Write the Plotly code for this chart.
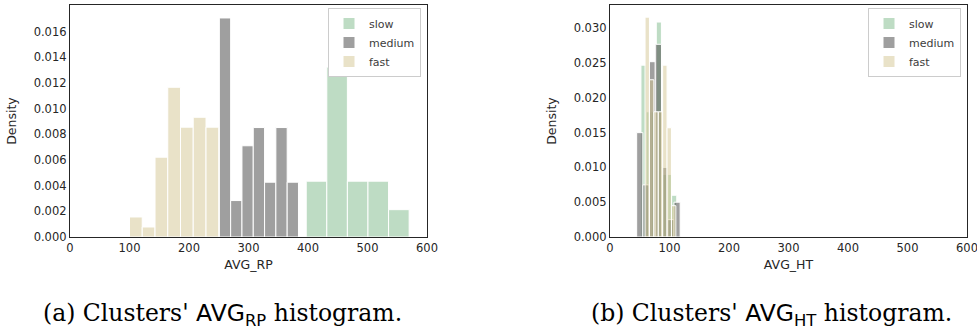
import numpy as np
import plotly.graph_objects as go

# ---- data ----
series_names = ["slow", "medium", "fast"]

# AVG_RP histogram (bin edges, densities)
slow_rp_edges = [397, 431.6, 466.2, 500.8, 535.4, 570]
slow_rp_density = [0.00435, 0.01324, 0.00435, 0.00435, 0.00213]
medium_rp_edges = [251, 270, 289, 308, 327, 346, 365, 384]
medium_rp_density = [0.01707, 0.00284, 0.00711, 0.00853, 0.00427, 0.00853, 0.00427]
fast_rp_edges = [100, 121.4, 142.9, 164.3, 185.7, 207.1, 228.6, 250]
fast_rp_density = [0.00156, 0.00078, 0.00622, 0.01167, 0.00856, 0.00933, 0.00856]

# AVG_HT histogram (bin edges, densities)
slow_ht_edges = [52, 60.6, 69.2, 77.8, 86.4, 95, 103.6, 112.2]
slow_ht_density = [0.0247, 0.018, 0.018, 0.0309, 0.009, 0.009, 0.006]
medium_ht_edges = [44.8, 55.2, 65.7, 76.1, 86.6, 97, 107.5, 117.9]
medium_ht_density = [0.0150, 0.0075, 0.0252, 0.0277, 0.0100, 0.0025, 0.0050]
fast_ht_edges = [58.9, 66.3, 73.7, 81.1, 88.5, 95.9, 103.3, 110.7]
fast_ht_density = [0.0316, 0.0226, 0.018, 0.018, 0.0247, 0.0157, 0.0045]

x_ticks = [0, 100, 200, 300, 400, 500, 600]
rp_y_ticks = [0.000, 0.002, 0.004, 0.006, 0.008, 0.010, 0.012, 0.014, 0.016]
ht_y_ticks = [0.000, 0.005, 0.010, 0.015, 0.020, 0.025, 0.030]

sans_span = "<span style='font-family:DejaVu Sans'>AVG<sub>{}</sub></span>"
captions = ["(a) Clusters' " + sans_span.format("RP") + " histogram.",
            "(b) Clusters' " + sans_span.format("HT") + " histogram."]

# ---- styling ----
colors = {"slow": "rgba(125,185,137,0.5)", "medium": "rgba(64,64,64,0.5)",
          "fast": "rgba(211,197,145,0.5)"}
text_color = "rgb(38,38,38)"
font_family = "DejaVu Sans"

fig = go.Figure()


def add_hist(edges, dens, name, xaxis, yaxis, legend):
    e = np.asarray(edges, dtype=float)
    centers = (e[:-1] + e[1:]) / 2
    widths = np.diff(e)
    fig.add_trace(go.Bar(
        x=centers, y=dens, width=widths, name=name,
        xaxis=xaxis, yaxis=yaxis, legend=legend,
        marker=dict(color=colors[name], line=dict(color="white", width=1)),
    ))


rp_sets = {"slow": (slow_rp_edges, slow_rp_density),
           "medium": (medium_rp_edges, medium_rp_density),
           "fast": (fast_rp_edges, fast_rp_density)}
ht_sets = {"slow": (slow_ht_edges, slow_ht_density),
           "medium": (medium_ht_edges, medium_ht_density),
           "fast": (fast_ht_edges, fast_ht_density)}

for nm in series_names:
    add_hist(*rp_sets[nm], nm, "x", "y", "legend")
for nm in series_names:
    add_hist(*ht_sets[nm], nm, "x2", "y2", "legend2")

W, H = 977, 331
def px_x(p):
    return p / W
def px_y(p):
    return 1 - p / H

axis_common = dict(showline=True, linecolor=text_color, linewidth=1.25, mirror=True,
                   showgrid=False, zeroline=False, ticks="", automargin=False,
                   tickfont=dict(family=font_family, size=11.5, color=text_color),
                   title_font=dict(family=font_family, size=12.5, color=text_color))

legend_common = dict(xanchor="right", yanchor="top",
                     bgcolor="white", bordercolor="rgb(204,204,204)", borderwidth=1,
                     font=dict(family=font_family, size=11, color="rgb(60,60,60)"),
                     tracegroupgap=0, itemwidth=30)

fig.update_layout(
    width=W, height=H,
    margin=dict(l=0, r=0, t=0, b=0),
    paper_bgcolor="white", plot_bgcolor="white",
    barmode="overlay",
    font=dict(family=font_family, color=text_color),
    xaxis=dict(domain=[px_x(70), px_x(427)], anchor="y", range=[0, 600],
               tickvals=x_ticks, ticklabeloverflow="allow",
               title=dict(text="AVG_RP", standoff=6), **axis_common),
    yaxis=dict(domain=[px_y(237), px_y(5)], anchor="x", range=[0, 0.01808],
               tickvals=rp_y_ticks, tickformat=".3f",
               title=dict(text="Density", standoff=14), **axis_common),
    xaxis2=dict(domain=[px_x(610), px_x(967)], anchor="y2", range=[0, 600],
                tickvals=x_ticks, ticklabeloverflow="allow",
                title=dict(text="AVG_HT", standoff=6), **axis_common),
    yaxis2=dict(domain=[px_y(237), px_y(5)], anchor="x2", range=[0, 0.03335],
                tickvals=ht_y_ticks, tickformat=".3f",
                title=dict(text="Density", standoff=14), **axis_common),
    legend=dict(x=px_x(421), y=px_y(8), **legend_common),
    legend2=dict(x=px_x(961), y=px_y(8), **legend_common),
    showlegend=True,
)

for cap, cx in zip(captions, [222, 771]):
    fig.add_annotation(text=cap, xref="paper", yref="paper", x=px_x(cx), y=px_y(314),
                       xanchor="center", yanchor="middle", showarrow=False,
                       font=dict(family="DejaVu Serif", size=23.5, color="black"))

# remove the default 8px page margin so the figure fills the window exactly
fig.write_html("out.html", config={"displayModeBar": False},
               post_script="document.body.style.margin='0';document.body.style.overflow='hidden';")
